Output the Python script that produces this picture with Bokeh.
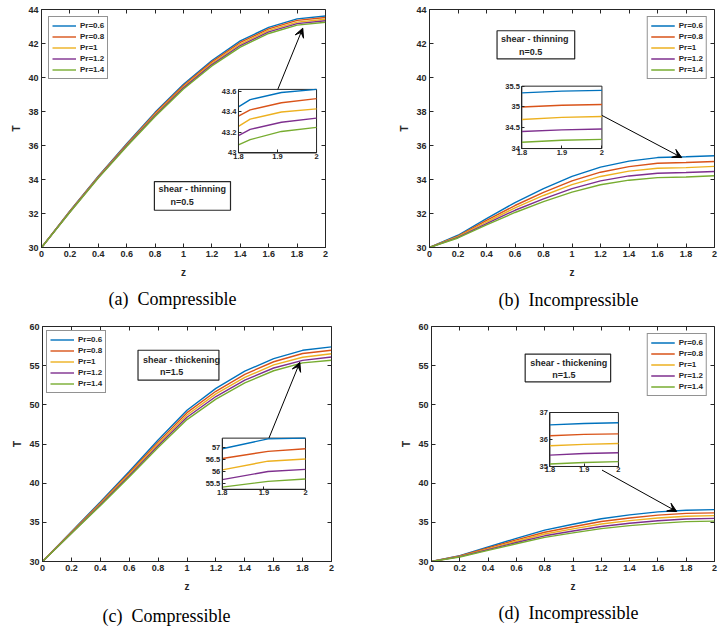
from bokeh.plotting import figure
from bokeh.models import (Range1d, LinearAxis, FixedTicker, Legend, LegendItem,
                          Arrow, VeeHead, CustomJSTickFormatter)
from bokeh.layouts import column, row
from bokeh.embed import file_html
from bokeh.resources import INLINE
from bokeh.core.properties import value

# ---------------------------------------------------------------- data
z = [0.0, 0.2, 0.4, 0.6, 0.8, 1.0, 1.2, 1.4, 1.6, 1.8, 2.0]
pr_labels = ["Pr=0.6", "Pr=0.8", "Pr=1", "Pr=1.2", "Pr=1.4"]
x_ticks = [0, 0.2, 0.4, 0.6, 0.8, 1, 1.2, 1.4, 1.6, 1.8, 2]
x_tick_labels = ["0", "0.2", "0.4", "0.6", "0.8", "1", "1.2", "1.4", "1.6", "1.8", "2"]
inset_x_ticks = [1.8, 1.9, 2]
inset_x_tick_labels = ["1.8", "1.9", "2"]

# (a) compressible, shear-thinning n=0.5
a_pr06 = [30.0, 32.15, 34.20, 36.10, 37.95, 39.60, 41.00, 42.15, 42.95, 43.45, 43.62]
a_pr08 = [30.0, 32.13, 34.17, 36.06, 37.89, 39.53, 40.92, 42.06, 42.86, 43.36, 43.53]
a_pr10 = [30.0, 32.11, 34.14, 36.02, 37.83, 39.46, 40.84, 41.97, 42.77, 43.26, 43.43]
a_pr12 = [30.0, 32.09, 34.11, 35.98, 37.77, 39.39, 40.76, 41.88, 42.68, 43.17, 43.34]
a_pr14 = [30.0, 32.07, 34.08, 35.94, 37.71, 39.32, 40.68, 41.79, 42.59, 43.08, 43.25]
a_inset_z = [1.8, 1.83, 1.91, 2.0]
a_inset_pr06 = [43.45, 43.52, 43.59, 43.62]
a_inset_pr08 = [43.36, 43.42, 43.49, 43.53]
a_inset_pr10 = [43.26, 43.33, 43.40, 43.43]
a_inset_pr12 = [43.17, 43.23, 43.30, 43.34]
a_inset_pr14 = [43.08, 43.13, 43.21, 43.25]
a_y_ticks = [30, 32, 34, 36, 38, 40, 42, 44]
a_inset_y_ticks = [43, 43.2, 43.4, 43.6]
a_inset_y_tick_labels = ["43", "43.2", "43.4", "43.6"]

# (b) incompressible, shear-thinning n=0.5
b_pr06 = [30.0, 30.72, 31.70, 32.64, 33.46, 34.18, 34.73, 35.08, 35.29, 35.34, 35.40]
b_pr08 = [30.0, 30.67, 31.59, 32.47, 33.24, 33.92, 34.43, 34.76, 34.96, 35.00, 35.06]
b_pr10 = [30.0, 30.64, 31.50, 32.33, 33.06, 33.70, 34.18, 34.49, 34.66, 34.70, 34.77]
b_pr12 = [30.0, 30.60, 31.41, 32.19, 32.86, 33.46, 33.92, 34.21, 34.37, 34.41, 34.47]
b_pr14 = [30.0, 30.56, 31.33, 32.06, 32.70, 33.26, 33.69, 33.96, 34.11, 34.15, 34.22]
b_inset_z = [1.8, 1.9, 2.0]
b_inset_pr06 = [35.34, 35.38, 35.40]
b_inset_pr08 = [35.00, 35.04, 35.06]
b_inset_pr10 = [34.70, 34.75, 34.77]
b_inset_pr12 = [34.41, 34.45, 34.47]
b_inset_pr14 = [34.15, 34.20, 34.22]
b_y_ticks = [30, 32, 34, 36, 38, 40, 42, 44]
b_inset_y_ticks = [34, 34.5, 35, 35.5]
b_inset_y_tick_labels = ["34", "34.5", "35", "35.5"]

# (c) compressible, shear-thickening n=1.5
c_pr06 = [30.0, 33.80, 37.60, 41.50, 45.50, 49.30, 52.10, 54.30, 55.90, 56.96, 57.40]
c_pr08 = [30.0, 33.74, 37.47, 41.31, 45.24, 49.00, 51.73, 53.90, 55.50, 56.55, 56.96]
c_pr10 = [30.0, 33.68, 37.36, 41.13, 45.00, 48.70, 51.40, 53.50, 55.10, 56.08, 56.53]
c_pr12 = [30.0, 33.62, 37.24, 40.96, 44.77, 48.41, 51.06, 53.15, 54.70, 55.67, 56.10]
c_pr14 = [30.0, 33.56, 37.13, 40.79, 44.54, 48.12, 50.73, 52.80, 54.35, 55.36, 55.70]
c_inset_z = [1.8, 1.91, 2.0]
c_inset_pr06 = [56.96, 57.37, 57.40]
c_inset_pr08 = [56.55, 56.85, 56.96]
c_inset_pr10 = [56.08, 56.44, 56.53]
c_inset_pr12 = [55.67, 56.01, 56.10]
c_inset_pr14 = [55.36, 55.60, 55.70]
c_y_ticks = [30, 35, 40, 45, 50, 55, 60]
c_inset_y_ticks = [55.5, 56, 56.5, 57]
c_inset_y_tick_labels = ["55.5", "56", "56.5", "57"]

# (d) incompressible, shear-thickening n=1.5
d_pr06 = [30.0, 30.75, 31.85, 32.95, 34.00, 34.75, 35.45, 35.95, 36.33, 36.54, 36.62]
d_pr08 = [30.0, 30.70, 31.73, 32.76, 33.74, 34.44, 35.10, 35.56, 35.92, 36.14, 36.21]
d_pr10 = [30.0, 30.66, 31.62, 32.59, 33.51, 34.17, 34.79, 35.22, 35.56, 35.77, 35.85]
d_pr12 = [30.0, 30.62, 31.52, 32.42, 33.28, 33.90, 34.47, 34.88, 35.20, 35.42, 35.51]
d_pr14 = [30.0, 30.58, 31.42, 32.27, 33.08, 33.66, 34.20, 34.58, 34.87, 35.09, 35.16]
d_inset_z = [1.8, 1.9, 2.0]
d_inset_pr06 = [36.54, 36.59, 36.62]
d_inset_pr08 = [36.14, 36.19, 36.21]
d_inset_pr10 = [35.77, 35.82, 35.85]
d_inset_pr12 = [35.42, 35.48, 35.51]
d_inset_pr14 = [35.09, 35.15, 35.18]
d_y_ticks = [30, 35, 40, 45, 50, 55, 60]
d_inset_y_ticks = [35, 36, 37]
d_inset_y_tick_labels = ["35", "36", "37"]

box_texts = {
    "a": ["shear - thinning", "n=0.5"],
    "b": ["shear - thinning", "n=0.5"],
    "c": ["shear - thickening", "n=1.5"],
    "d": ["shear - thickening", "n=1.5"],
}
captions_top = ["(a)\u00a0\u00a0Compressible", "(b)\u00a0\u00a0Incompressible"]
captions_bottom = ["(c)\u00a0\u00a0Compressible", "(d)\u00a0\u00a0Incompressible"]

# ---------------------------------------------------------------- style
COLORS = ["#0072BD", "#D95319", "#EDB120", "#7E2F8E", "#77AC30"]
INK = "#262626"
SANS = "Liberation Sans"
SERIF = "Liberation Serif"
EMPTY = CustomJSTickFormatter(code="return ''")


def style_axis(ax, ticks, labels, size="9px", tick_in=4):
    ax.ticker = FixedTicker(ticks=ticks)
    ax.major_label_overrides = {t: l for t, l in zip(ticks, labels)}
    ax.major_tick_in = tick_in
    ax.major_tick_out = 0
    ax.minor_tick_line_color = None
    ax.axis_line_color = INK
    ax.major_tick_line_color = INK
    ax.major_label_text_font = SANS
    ax.major_label_text_font_style = "bold"
    ax.major_label_text_font_size = size
    ax.major_label_text_color = INK
    ax.major_label_standoff = 3


def make_panel(key, series, y_rng, y_ticks, inset, geom):
    p = figure(width=geom["w"], height=geom["h"],
               x_range=Range1d(0, 2), y_range=Range1d(*y_rng),
               output_backend="svg", toolbar_location=None,
               min_border_left=geom["bl"], min_border_right=geom["br"],
               min_border_top=geom["bt"], min_border_bottom=geom["bb"],
               margin=(0, 0, 0, geom["ml"]))
    p.xgrid.visible = False
    p.ygrid.visible = False
    p.outline_line_color = INK
    p.outline_line_width = 1
    p.background_fill_color = "white"

    xa = p.xaxis[0]
    ya = p.yaxis[0]
    style_axis(xa, x_ticks, x_tick_labels)
    style_axis(ya, y_ticks, [str(t) for t in y_ticks])
    for ax, lab in ((xa, "z"), (ya, "T")):
        ax.axis_label = lab
        ax.axis_label_text_font = SANS
        ax.axis_label_text_font_style = "bold"
        ax.axis_label_text_font_size = "10px"
        ax.axis_label_text_color = INK
    xa.axis_label_standoff = 7
    ya.axis_label_standoff = 3

    # ticks on the top and right edges of the box
    top = LinearAxis(fixed_location=y_rng[1])
    style_axis(top, x_ticks, ["" for _ in x_ticks])
    top.formatter = EMPTY
    top.major_label_overrides = {}
    p.add_layout(top, "above")
    right = LinearAxis(fixed_location=2)
    style_axis(right, y_ticks, ["" for _ in y_ticks])
    right.formatter = EMPTY
    right.major_label_overrides = {}
    p.add_layout(right, "right")

    renderers = []
    for vals, col in zip(series, COLORS):
        r = p.line(z, vals, line_color=col, line_width=1.4)
        renderers.append(r)

    # ---- annotation text box
    bx0, bx1, by0, by1 = geom["tbox"]
    p.quad(left=[bx0], right=[bx1], bottom=[by0], top=[by1],
           fill_color="white", line_color=INK, line_width=1.2)
    t1, t2 = box_texts[key]
    p.text(x=[bx0], y=[by1], text=[t1], x_offset=geom["t1"][0], y_offset=geom["t1"][1],
           text_align="left", text_baseline="middle", text_font=value(SANS),
           text_font_style="bold", text_font_size="9px", text_color=INK)
    p.text(x=[bx0], y=[by1], text=[t2], x_offset=geom["t2"][0], y_offset=geom["t2"][1],
           text_align="left", text_baseline="middle", text_font=value(SANS),
           text_font_style="bold", text_font_size="9px", text_color=INK)

    # ---- inset (zoom on 1.8 <= z <= 2)
    iz, iseries, iy_rng, iy_ticks, iy_labels = inset
    ix0, ix1 = 1.8, 2.0
    iy0, iy1 = iy_rng
    qx0, qx1, qy0, qy1 = geom["inset"]
    sx = (ix1 - ix0) / (qx1 - qx0)
    sy = (iy1 - iy0) / (qy1 - qy0)
    p.extra_x_ranges = {"ix": Range1d(ix0 - (qx0 - 0) * sx, ix1 + (2 - qx1) * sx)}
    p.extra_y_ranges = {"iy": Range1d(iy0 - (qy0 - y_rng[0]) * sy, iy1 + (y_rng[1] - qy1) * sy)}
    p.quad(left=[ix0], right=[ix1], bottom=[iy0], top=[iy1], x_range_name="ix",
           y_range_name="iy", fill_color="white", line_color=INK, line_width=1)
    for vals, col in zip(iseries, COLORS):
        p.line(iz, vals, x_range_name="ix", y_range_name="iy", line_color=col, line_width=1.4)
    ib = LinearAxis(x_range_name="ix", y_range_name="iy", fixed_location=iy0, bounds=(ix0, ix1))
    style_axis(ib, inset_x_ticks, inset_x_tick_labels, size="7.5px", tick_in=3)
    ib.major_label_standoff = 1
    p.add_layout(ib, "below")
    il = LinearAxis(x_range_name="ix", y_range_name="iy", fixed_location=ix0, bounds=(iy0, iy1))
    style_axis(il, iy_ticks, iy_labels, size="7.5px", tick_in=3)
    il.major_label_standoff = 2
    p.add_layout(il, "left")

    # ---- arrow from the inset to the curves
    ax0, ay0, ax1, ay1 = geom["arrow"]
    p.add_layout(Arrow(x_start=ax0, y_start=ay0, x_end=ax1, y_end=ay1,
                       line_color="black", line_width=1,
                       end=VeeHead(size=9, fill_color="black", line_color="black")))

    # ---- legend
    items = [LegendItem(label=lab, renderers=[r]) for lab, r in zip(pr_labels, renderers)]
    leg = Legend(items=items, location=geom["leg_loc"], margin=geom["leg_margin"],
                 padding=3, spacing=0, glyph_width=24, glyph_height=11, label_height=11,
                 label_standoff=4, label_text_font=SANS, label_text_font_style="bold",
                 label_text_font_size="8px", label_text_color=INK,
                 border_line_color=INK, border_line_width=1, background_fill_alpha=1)
    p.add_layout(leg)
    return p


def caption_strip(texts, xs, ys, height):
    """A strip of page width holding the two sub-figure captions (pixel units)."""
    c = figure(width=719, height=height, x_range=Range1d(0, 719), y_range=Range1d(height, 0),
               output_backend="svg", toolbar_location=None, x_axis_type=None,
               y_axis_type=None, min_border=0, outline_line_color=None)
    c.xgrid.visible = False
    c.ygrid.visible = False
    c.text(x=xs, y=ys, text=texts, text_align="left", text_baseline="middle",
           text_font=value(SERIF), text_font_size="18px", text_color="black")
    return c


geoms = {
    "a": dict(w=388, h=282, ml=8, bl=31, br=71, bt=9, bb=34,
              tbox=(0.795, 1.331, 32.19, 33.88), t1=(4, 7), t2=(16, 20),
              inset=(1.387, 1.937, 35.56, 39.30), arrow=(1.664, 39.30, 1.84, 42.9),
              leg_loc="top_left", leg_margin=7),
    "b": dict(w=323, h=282, ml=0, bl=31, br=5, bt=8, bb=35,
              tbox=(0.474, 1.019, 41.09, 42.75), t1=(4, 8), t2=(22, 21),
              inset=(0.648, 1.210, 35.82, 39.49), arrow=(1.21, 37.77, 1.77, 35.29),
              leg_loc="top_right", leg_margin=7),
    "c": dict(w=390, h=287, ml=8, bl=34, br=67, bt=13, bb=33,
              tbox=(0.661, 1.221, 53.15, 56.97), t1=(5, 10), t2=(22, 22),
              inset=(1.244, 1.820, 39.22, 45.75), arrow=(1.567, 45.75, 1.781, 55.43),
              leg_loc="top_left", leg_margin=4),
    "d": dict(w=321, h=287, ml=0, bl=31, br=5, bt=14, bb=38,
              tbox=(0.662, 1.266, 52.94, 56.48), t1=(5, 9), t2=(27, 21),
              inset=(0.837, 1.321, 42.13, 49.02), arrow=(1.205, 41.67, 1.733, 36.38),
              leg_loc="top_right", leg_margin=7),
}

pa = make_panel("a", [a_pr06, a_pr08, a_pr10, a_pr12, a_pr14], (30, 44), a_y_ticks,
                (a_inset_z, [a_inset_pr06, a_inset_pr08, a_inset_pr10, a_inset_pr12, a_inset_pr14],
                 (43, 43.62), a_inset_y_ticks, a_inset_y_tick_labels), geoms["a"])
pb = make_panel("b", [b_pr06, b_pr08, b_pr10, b_pr12, b_pr14], (30, 44), b_y_ticks,
                (b_inset_z, [b_inset_pr06, b_inset_pr08, b_inset_pr10, b_inset_pr12, b_inset_pr14],
                 (34, 35.5), b_inset_y_ticks, b_inset_y_tick_labels), geoms["b"])
pc = make_panel("c", [c_pr06, c_pr08, c_pr10, c_pr12, c_pr14], (30, 60), c_y_ticks,
                (c_inset_z, [c_inset_pr06, c_inset_pr08, c_inset_pr10, c_inset_pr12, c_inset_pr14],
                 (55.27, 57.4), c_inset_y_ticks, c_inset_y_tick_labels), geoms["c"])
pd_ = make_panel("d", [d_pr06, d_pr08, d_pr10, d_pr12, d_pr14], (30, 60), d_y_ticks,
                 (d_inset_z, [d_inset_pr06, d_inset_pr08, d_inset_pr10, d_inset_pr12, d_inset_pr14],
                  (35, 37), d_inset_y_ticks, d_inset_y_tick_labels), geoms["d"])

cap1 = caption_strip(captions_top, [108, 498], [16, 17], 30)
cap2 = caption_strip(captions_bottom, [102, 498], [16, 13], 28)

layout = column(row(pa, pb, spacing=0), cap1, row(pc, pd_, spacing=0), cap2, spacing=0)

with open("out.html", "w") as f:
    f.write(file_html(layout, INLINE))
